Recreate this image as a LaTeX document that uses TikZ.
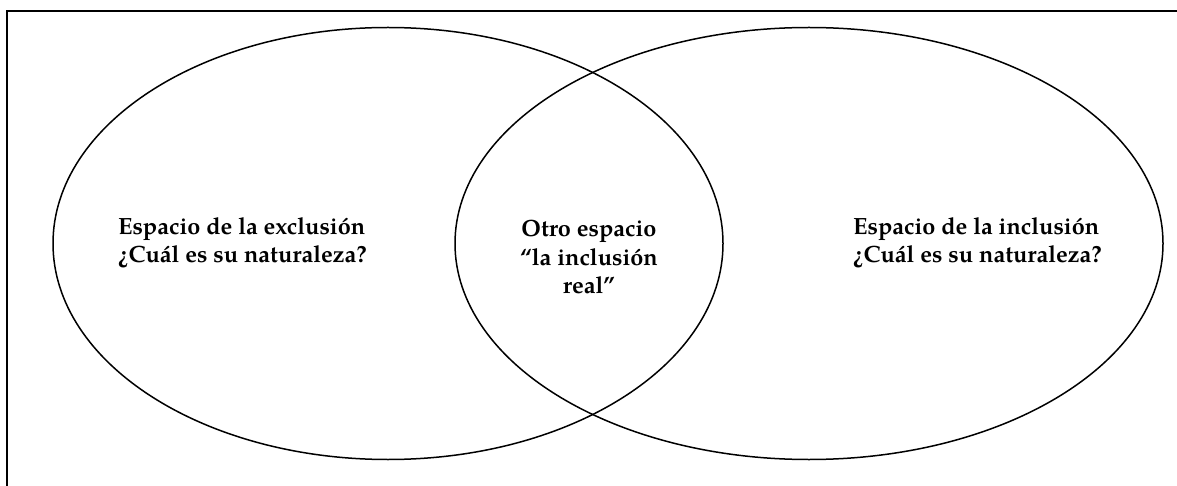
\documentclass[tikz,border=0pt]{standalone}
\usepackage{fontspec}
\setmainfont{texgyrepagella}[Extension=.otf, UprightFont=*-regular, BoldFont=*-bold, ItalicFont=*-italic, BoldItalicFont=*-bolditalic]

\tikzset{
    set/.style={line width=1.5pt, black},
    setlabel/.style={inner sep=0pt, font=\fontsize{23.5}{28}\selectfont\bfseries}
}

\begin{document}
\begin{tikzpicture}[x=1pt, y=-1pt]

    % Picture size
    \def\w{1177}
    \def\h{486}
    % Ellipses
    \def\xa{388}    % x centre, exclusion
    \def\rxa{335}
    \def\xb{809}    % x centre, inclusion
    \def\rxb{354}
    \def\yc{243.5}  % y centre of both
    \def\ry{216}

    \useasboundingbox (0,0) rectangle (\w,\h);
    \clip (0,0) rectangle (\w,\h);

    % Frame (cut at right and bottom)
    \draw[line width=2pt] (6.5,11.5) rectangle (\w+20,\h+20);

    % Sets
    \draw[set] (\xa,\yc) ellipse ({\rxa} and {\ry});
    \draw[set] (\xb,\yc) ellipse ({\rxb} and {\ry});

    % Labels (base = last line)
    \node[setlabel, align=left,   anchor=base west] (excl) at (118,262) {Espacio de la exclusión\\¿Cuál es su naturaleza?};
    \node[setlabel, align=center, anchor=base]      (real) at (589,293) {Otro espacio\\“la inclusión\\real”};
    \node[setlabel, align=left,   anchor=base west] (incl) at (853,262) {Espacio de la inclusión\\¿Cuál es su naturaleza?};

\end{tikzpicture}
\end{document}
